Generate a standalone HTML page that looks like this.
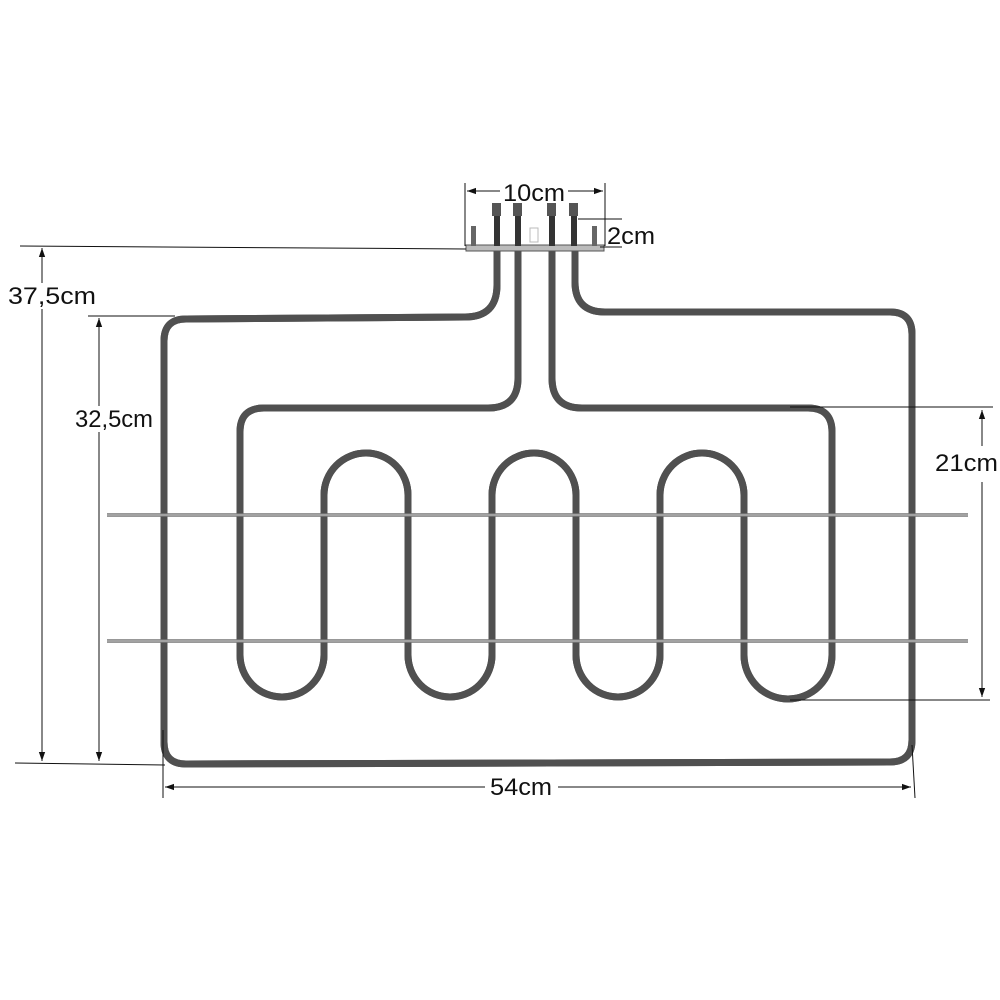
<!DOCTYPE html>
<html><head><meta charset="utf-8"><style>
html,body{margin:0;padding:0;background:#fff}
svg{display:block}
text{font-family:"Liberation Sans",sans-serif;fill:#111}
</style></head><body>
<svg width="1000" height="1000" viewBox="0 0 1000 1000" xmlns="http://www.w3.org/2000/svg">
<defs>
<marker id="a" viewBox="0 0 10 10" refX="10" refY="5" markerWidth="9" markerHeight="9" orient="auto-start-reverse" markerUnits="userSpaceOnUse"><path d="M0,1.5 L10,5 L0,8.5 z" fill="#111"/></marker>
</defs>
<g id="tubes" fill="none" stroke-linecap="round" stroke-linejoin="round">
<path id="outer" d="M497,252 L497,285 Q497,317 465,317 L186,319 Q164,319 164,341 L164,742 Q164,764 186,764 L890,762 Q912,762 912,740 L912,334 Q912,312 890,312 L605,312 Q575,312 575,282 L575,252" stroke="#505050" stroke-width="7"/>
<path id="inner" d="M518,252 L518,378 Q518,408 488,408 L264,408 Q240,408 240,432 L240,655 A42,42 0 0 0 324,655 L324,495 A42,42 0 0 1 408,495 L408,655 A42,42 0 0 0 492,655 L492,495 A42,42 0 0 1 576,495 L576,655 A42,42 0 0 0 660,655 L660,495 A42,42 0 0 1 744,495 L744,655 A44,44 0 0 0 832,655 L832,432 Q832,408 808,408 L582,408 Q552,408 552,378 L552,252" stroke="#505050" stroke-width="7"/>
<use href="#outer" stroke="#9a9a9a" stroke-width="1.2"/>
<use href="#inner" stroke="#9a9a9a" stroke-width="1.2"/>
</g>
<line x1="107" y1="515" x2="968" y2="515" stroke="#777" stroke-width="3.5"/>
<line x1="107" y1="515" x2="968" y2="515" stroke="#ccc" stroke-width="1"/>
<line x1="107" y1="641" x2="968" y2="641" stroke="#777" stroke-width="3.5"/>
<line x1="107" y1="641" x2="968" y2="641" stroke="#ccc" stroke-width="1"/>
<rect x="466" y="245" width="138" height="6" fill="#bbb" stroke="#555" stroke-width="1"/>
<rect x="471" y="226" width="5" height="20" fill="#666"/>
<rect x="592" y="226" width="5" height="20" fill="#666"/>
<rect x="530" y="228" width="8" height="14" fill="#fff" stroke="#bbb"/>
<g fill="#333">
<rect x="494" y="215" width="6" height="31"/><rect x="492" y="203" width="9" height="13" fill="#555"/>
<rect x="515" y="215" width="6" height="31"/><rect x="513" y="203" width="9" height="13" fill="#555"/>
<rect x="549" y="215" width="6" height="31"/><rect x="547" y="203" width="9" height="13" fill="#555"/>
<rect x="571" y="215" width="6" height="31"/><rect x="569" y="203" width="9" height="13" fill="#555"/>
</g>
<g stroke="#111" stroke-width="1" fill="none">
<line x1="20" y1="246" x2="466" y2="249"/>
<line x1="42" y1="248" x2="42" y2="761" marker-start="url(#a)" marker-end="url(#a)"/>
<line x1="15" y1="763" x2="165" y2="765"/>
<line x1="88" y1="316" x2="175" y2="316"/>
<line x1="99" y1="318" x2="99" y2="761" marker-start="url(#a)" marker-end="url(#a)"/>
<line x1="790" y1="407" x2="993" y2="407"/>
<line x1="790" y1="700" x2="990" y2="700"/>
<line x1="982" y1="410" x2="982" y2="446" marker-start="url(#a)"/>
<line x1="982" y1="482" x2="982" y2="697" marker-end="url(#a)"/>
<line x1="163" y1="730" x2="163" y2="798"/>
<line x1="912" y1="745" x2="915" y2="798"/>
<line x1="165" y1="787" x2="485" y2="787" marker-start="url(#a)"/>
<line x1="558" y1="787" x2="911" y2="787" marker-end="url(#a)"/>
<line x1="465" y1="183" x2="465" y2="246"/>
<line x1="605" y1="183" x2="605" y2="246"/>
<line x1="467" y1="191" x2="500" y2="191" marker-start="url(#a)"/>
<line x1="568" y1="191" x2="603" y2="191" marker-end="url(#a)"/>
<line x1="578" y1="219" x2="622" y2="219"/>
<line x1="600" y1="247" x2="622" y2="247"/>
</g>
<rect x="6" y="283" width="92" height="26" fill="#fff"/>
<rect x="73" y="406" width="82" height="26" fill="#fff"/>
<g font-size="24">
<text x="8" y="304" textLength="88" lengthAdjust="spacingAndGlyphs">37,5cm</text>
<text x="75" y="427" textLength="78" lengthAdjust="spacingAndGlyphs">32,5cm</text>
<text x="935" y="471" textLength="63" lengthAdjust="spacingAndGlyphs">21cm</text>
<text x="490" y="795" textLength="62" lengthAdjust="spacingAndGlyphs">54cm</text>
<text x="503" y="201" textLength="62" lengthAdjust="spacingAndGlyphs">10cm</text>
<text x="607" y="244" textLength="48" lengthAdjust="spacingAndGlyphs">2cm</text>
</g>
</svg>
</body></html>
